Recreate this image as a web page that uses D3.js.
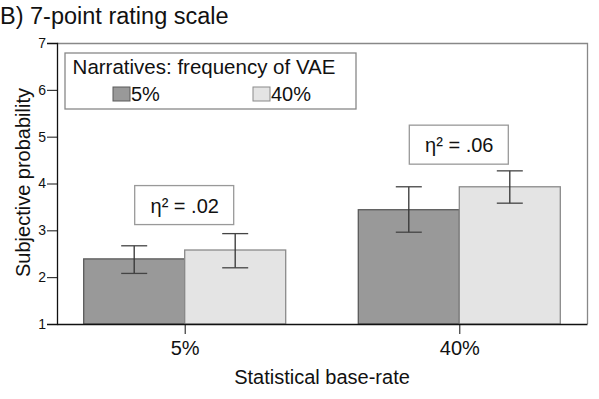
<!DOCTYPE html>
<html>
<head>
<meta charset="utf-8">
<script src="https://cdn.jsdelivr.net/npm/d3@7"></script>
<style>
body { margin: 0; background: #fff; }
text { font-family: "Liberation Sans", Arial, sans-serif; fill: #111; }
</style>
</head>
<body>
<div id="chart"></div>
<script>
// base-rate groups and narrative frequencies
var baseRates = ["5%", "40%"];
var narratives = ["5%", "40%"];
// means per base-rate, one per narrative
var means = [[2.39, 2.58], [3.44, 3.93]];
var errLow = [[2.08, 2.20], [2.96, 3.58]];
var errHigh = [[2.67, 2.93], [3.93, 4.27]];
var etaLabels = ["η² = .02", "η² = .06"];
var etaPos = [3.55, 4.84];
var yTicks = [1, 2, 3, 4, 5, 6, 7];

var width = 599, height = 399;
var margin = {top: 43, right: 12, bottom: 75, left: 57};
var w = width - margin.left - margin.right,
    h = height - margin.top - margin.bottom;

var colors = ["#999999", "#e4e4e4"];
var strokes = ["#5a5a5a", "#8a8a8a"];

var svg = d3.select("#chart").append("svg")
    .attr("width", width)
    .attr("height", height);

svg.append("text")
    .attr("x", 0)
    .attr("y", 24)
    .style("font-size", "23.5px")
    .text("B) 7-point rating scale");

var g = svg.append("g")
    .attr("transform", "translate(" + margin.left + "," + margin.top + ")");

var x = d3.scalePoint()
    .domain(baseRates)
    .range([0, w])
    .padding(0.465);

var barW = 101;
var xs = d3.scaleBand()
    .domain(narratives)
    .range([-barW, barW]);

var y = d3.scaleLinear()
    .domain([1, 7])
    .range([h, 0]);

// frame (top and right in gray)
g.append("path")
    .attr("d", "M0,0.5H" + (w + 0.5) + "V" + h)
    .attr("fill", "none")
    .attr("stroke", "#888")
    .attr("stroke-width", 1.3);

var groups = g.selectAll(".grp")
    .data(baseRates)
    .enter().append("g")
    .attr("class", "grp")
    .attr("transform", function(d) { return "translate(" + x(d) + ",0)"; });

groups.each(function(br, i) {
    var gg = d3.select(this);
    narratives.forEach(function(n, j) {
        gg.append("rect")
            .attr("x", xs(n))
            .attr("y", y(means[i][j]))
            .attr("width", xs.bandwidth())
            .attr("height", h - y(means[i][j]))
            .attr("fill", colors[j])
            .attr("stroke", strokes[j])
            .attr("stroke-width", 1.3);
    });
    narratives.forEach(function(n, j) {
        var cx = xs(n) + xs.bandwidth() / 2;
        gg.append("line")
            .attr("x1", cx).attr("x2", cx)
            .attr("y1", y(errHigh[i][j])).attr("y2", y(errLow[i][j]))
            .attr("stroke", "#333").attr("stroke-width", 1.3);
        [errHigh[i][j], errLow[i][j]].forEach(function(v) {
            gg.append("line")
                .attr("x1", cx - 13).attr("x2", cx + 13)
                .attr("y1", y(v)).attr("y2", y(v))
                .attr("stroke", "#444").attr("stroke-width", 1.3);
        });
    });
    // effect size box
    var by = y(etaPos[i]);
    gg.append("rect")
        .attr("x", -50).attr("y", by - 19)
        .attr("width", 99).attr("height", 39)
        .attr("fill", "#fff")
        .attr("stroke", "#999")
        .attr("stroke-width", 1.3);
    gg.append("text")
        .attr("x", 0).attr("y", by + 8)
        .attr("text-anchor", "middle")
        .style("font-size", "20px")
        .text(etaLabels[i]);
});

// axes
var yAxis = d3.axisLeft(y).tickValues(yTicks).tickFormat(d3.format("d"))
    .tickSize(10).tickPadding(1);
g.append("g")
    .attr("class", "y axis")
    .call(yAxis)
    .call(function(a) {
        a.select(".domain").attr("stroke", "#111").attr("stroke-width", 1.3);
        a.selectAll(".tick line").attr("stroke", "#111");
        a.selectAll("text").style("font-size", "14px").attr("fill", "#111");
    });

var xAxis = d3.axisBottom(x).tickSize(10).tickPadding(7).tickSizeOuter(0);
g.append("g")
    .attr("class", "x axis")
    .attr("transform", "translate(0," + h + ")")
    .call(xAxis)
    .call(function(a) {
        a.select(".domain").attr("stroke", "#111").attr("stroke-width", 1.3);
        a.selectAll(".tick line").attr("stroke", "#111");
        a.selectAll("text").style("font-size", "20px").attr("fill", "#111");
    });

svg.append("text")
    .attr("x", margin.left + w / 2)
    .attr("y", 384)
    .attr("text-anchor", "middle")
    .style("font-size", "20px")
    .text("Statistical base-rate");

svg.append("text")
    .attr("transform", "translate(29.5,182.5) rotate(-90)")
    .attr("text-anchor", "middle")
    .style("font-size", "20px")
    .text("Subjective probability");

// legend
var leg = g.append("g").attr("transform", "translate(8,10)");
leg.append("rect")
    .attr("width", 291).attr("height", 56)
    .attr("fill", "#fff")
    .attr("stroke", "#888")
    .attr("stroke-width", 1.3);
leg.append("text")
    .attr("x", 139).attr("y", 21)
    .attr("text-anchor", "middle")
    .style("font-size", "20.5px")
    .text("Narratives: frequency of VAE");
var legX = [48, 188];
narratives.forEach(function(n, j) {
    leg.append("rect")
        .attr("x", legX[j]).attr("y", 34)
        .attr("width", 17).attr("height", 14)
        .attr("fill", colors[j])
        .attr("stroke", strokes[j]);
    leg.append("text")
        .attr("x", legX[j] + 18).attr("y", 47.5)
        .style("font-size", "20px")
        .text(n);
});
</script>
</body>
</html>
